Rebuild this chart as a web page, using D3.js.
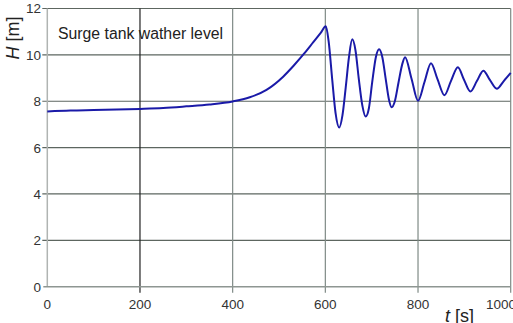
<!DOCTYPE html>
<html>
<head>
<meta charset="utf-8">
<script src="https://cdn.jsdelivr.net/npm/d3@7"></script>
<style>
  body { margin: 0; background: #fff; }
  svg { display: block; font-family: "Liberation Sans", Arial, sans-serif; }
</style>
</head>
<body>
<svg id="chart" width="513" height="323"></svg>
<script>
'use strict';

// data
var time = [0, 50, 100, 150, 200, 250, 300, 350, 400, 437, 473, 509, 531, 554, 574, 590, 601,
            607, 615, 622, 630, 637, 644, 651, 658, 665, 672, 680, 687, 694, 701, 709, 716,
            723, 730, 737, 743, 750, 758, 766, 772, 786, 800, 814, 828, 842, 857, 871, 886,
            899, 913, 927, 941, 955, 970, 985, 1000];
var level = [7.56, 7.60, 7.62, 7.64, 7.67, 7.71, 7.78, 7.86, 7.99, 8.17, 8.49, 9.06, 9.52, 10.05, 10.55, 10.95, 11.23,
             10.6, 8.9, 7.5, 6.87, 7.4, 8.6, 9.9, 10.67, 10.2, 9.0, 7.8, 7.34, 7.7, 8.8, 9.9, 10.24,
             9.9, 9.0, 8.1, 7.74, 8.0, 8.82, 9.6, 9.90, 8.97, 8.02, 8.83, 9.64, 8.95, 8.26, 8.87, 9.47,
             8.94, 8.42, 8.87, 9.32, 8.92, 8.54, 8.87, 9.22];
var xTicks = [0, 200, 400, 600, 800, 1000];
var yTicks = [0, 2, 4, 6, 8, 10, 12];

var svg = d3.select("#chart");

var x = d3.scaleLinear().domain([0, 1000]).range([47.3, 510.7]);
var y = d3.scaleLinear().domain([0, 12]).range([286.7, 8.5]);

// horizontal grid
svg.append("g").selectAll("line")
    .data(yTicks.filter(function(d) { return d > 0; }))
    .enter().append("line")
        .attr("x1", x(0) - 5).attr("x2", x(1000))
        .attr("y1", function(d) { return y(d); })
        .attr("y2", function(d) { return y(d); })
        .style("stroke", "#5d6660").style("stroke-width", 1.2);

// vertical grid
svg.append("g").selectAll("line")
    .data(xTicks.filter(function(d) { return d > 0; }))
    .enter().append("line")
        .attr("x1", function(d) { return x(d); })
        .attr("x2", function(d) { return x(d); })
        .attr("y1", y(12)).attr("y2", y(0) + 6)
        .style("stroke", function(d) { return d == 200 ? "#222" : "#7f8a86"; })
        .style("stroke-width", 1.2);

// axes lines
svg.append("line")
    .attr("x1", x(0)).attr("x2", x(0)).attr("y1", y(12)).attr("y2", y(0))
    .style("stroke", "#b0b4b2").style("stroke-width", 1.5);
svg.append("line")
    .attr("x1", x(0) - 4).attr("x2", x(1000)).attr("y1", y(0)).attr("y2", y(0))
    .style("stroke", "#8e9692").style("stroke-width", 1.5);

// tick labels
svg.append("g").selectAll("text")
    .data(yTicks)
    .enter().append("text")
        .attr("x", 41)
        .attr("y", function(d) { return d == 12 ? y(d) + 4.5 : y(d) + 5; })
        .attr("text-anchor", "end")
        .style("font-size", "13.5px").style("fill", "#333")
        .text(function(d) { return d; });

svg.append("g").selectAll("text")
    .data(xTicks)
    .enter().append("text")
        .attr("x", function(d) { return d == 1000 ? 486 : x(d); })
        .attr("y", 309)
        .attr("text-anchor", function(d) { return d == 1000 ? "start" : "middle"; })
        .style("font-size", "13.5px").style("fill", "#333")
        .text(function(d) { return d; });

// the curve
var line = d3.line()
    .x(function(d) { return x(d[0]); })
    .y(function(d) { return y(d[1]); })
    .curve(d3.curveMonotoneX);

svg.append("path")
    .datum(d3.zip(time, level))
    .attr("d", line)
    .style("fill", "none")
    .style("stroke", "#1a1aa8")
    .style("stroke-width", 2);

// titles
svg.append("text")
    .attr("x", 58).attr("y", 39)
    .style("font-size", "15.8px").style("fill", "#222")
    .text("Surge tank wather level");

var yl = svg.append("text")
    .attr("transform", "translate(19,38) rotate(-90)")
    .attr("text-anchor", "middle")
    .style("font-size", "18px").style("fill", "#222");
yl.append("tspan").style("font-style", "italic").text("H");
yl.append("tspan").text(" [m]");

var xl = svg.append("text")
    .attr("x", 445).attr("y", 322)
    .style("font-size", "18px").style("fill", "#222");
xl.append("tspan").style("font-style", "italic").text("t");
xl.append("tspan").text(" [s]");
</script>
</body>
</html>
